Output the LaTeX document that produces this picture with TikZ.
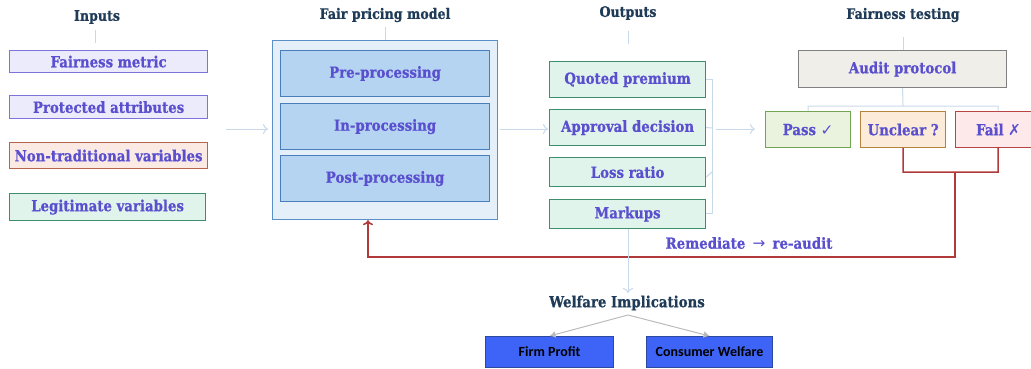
\documentclass[tikz,border=0pt]{standalone}
\usepackage{fontspec}
\setmainfont{DejaVu Serif}[FakeStretch=0.87,BoldFeatures={FakeBold=0.7}]
\newfontfamily\symf{DejaVu Sans}
\newfontfamily\calf{Carlito}
\usetikzlibrary{arrows.meta}
\definecolor{ttl}{HTML}{1F3B57}
\definecolor{txt}{HTML}{5A4FCF}
\definecolor{lavF}{HTML}{ECEBFB}\definecolor{lavD}{HTML}{7D74DB}
\definecolor{salF}{HTML}{FBEAE4}\definecolor{salD}{HTML}{B5654D}
\definecolor{grnF}{HTML}{E1F4EC}\definecolor{grnD}{HTML}{3E8E6E}
\definecolor{outF}{HTML}{E5EFF9}\definecolor{outD}{HTML}{5B8FC8}
\definecolor{inF}{HTML}{B4D4F1}\definecolor{inD}{HTML}{4A7EBB}
\definecolor{audF}{HTML}{EFEEE8}\definecolor{audD}{HTML}{808080}
\definecolor{pasF}{HTML}{E9F3DE}\definecolor{pasD}{HTML}{72A451}
\definecolor{uncF}{HTML}{FBEBD8}\definecolor{uncD}{HTML}{B4843F}
\definecolor{faiF}{HTML}{FDE9E9}\definecolor{faiD}{HTML}{B84444}
\definecolor{redl}{HTML}{B03A3A}
\definecolor{lite}{HTML}{C8D9EA}
\definecolor{gryl}{HTML}{BBBBBB}
\definecolor{bluF}{HTML}{3D64F6}\definecolor{bluD}{HTML}{2B4A9E}
\tikzset{
  x=1pt,y=-1pt,
  title/.style={text=ttl,font=\fontsize{14.5}{16}\selectfont\bfseries,inner sep=0},
  box/.style={draw,line width=1.2pt,text=txt,font=\fontsize{15.3}{17}\selectfont\bfseries,inner sep=0,anchor=north west},
  lite line/.style={draw=lite,line width=1pt},
  lite arrow/.style={draw=lite,line width=1pt,-{To[length=5pt,width=10pt]}},
  gray arrow/.style={draw=gryl,line width=1pt,-{Latex[length=6pt,width=7pt]}},
  red line/.style={draw=redl,line width=1.5pt},
}
\begin{document}
\begin{tikzpicture}
\useasboundingbox (0,0) rectangle (1031,369);
\clip (0,0) rectangle (1031,369);
% titles
\node[title] (tin) at (97,17) {Inputs};
\node[title] (tfp) at (385,15) {Fair pricing model};
\node[title] (tout) at (628,13) {Outputs};
\node[title] (tft) at (903,15) {Fairness testing};
\draw[lite line] (95,30) -- (95,43);
\draw[lite line] (385,27) -- (385,40);
\draw[lite line] (628,31) -- (628,44);
\draw[lite line] (903,37) -- (903,50);
% inputs
\node[box,draw=lavD,fill=lavF,minimum width=198pt,minimum height=22pt] (fm) at (9,50) {Fairness metric};
\node[box,draw=lavD,fill=lavF,minimum width=198pt,minimum height=23pt] (pa) at (9,95) {Protected attributes};
\node[box,draw=salD,fill=salF,minimum width=198pt,minimum height=26pt] (nt) at (9,142) {Non-traditional variables};
\node[box,draw=grnD,fill=grnF,minimum width=196pt,minimum height=27pt] (lv) at (9,193) {Legitimate variables};
% fair pricing model
\node[box,draw=outD,fill=outF,minimum width=225pt,minimum height=179pt] (fpm) at (272,40) {};
\node[box,draw=inD,fill=inF,minimum width=209pt,minimum height=46pt] (pre) at (280,50) {Pre-processing};
\node[box,draw=inD,fill=inF,minimum width=209pt,minimum height=46pt] (inp) at (280,103) {In-processing};
\node[box,draw=inD,fill=inF,minimum width=209pt,minimum height=46pt] (post) at (280,155) {Post-processing};
\coordinate (a1s) at (226,129); \coordinate (a1e) at (268,129);
\draw[lite arrow] (a1s) -- (a1e);
\coordinate (a2s) at (500,129); \coordinate (a2e) at (548,129);
\draw[lite arrow] (a2s) -- (a2e);
% outputs
\node[box,draw=grnD,fill=grnF,minimum width=156pt,minimum height=36pt] (qp) at (549,61) {Quoted premium};
\node[box,draw=grnD,fill=grnF,minimum width=156pt,minimum height=36pt] (ad) at (549,109) {Approval decision};
\node[box,draw=grnD,fill=grnF,minimum width=156pt,minimum height=29pt] (lr) at (549,157) {Loss ratio};
\node[box,draw=grnD,fill=grnF,minimum width=156pt,minimum height=29pt] (mk) at (549,199) {Markups};
\draw[lite line] (qp.east |- 0,80) -- (712,80) -- (712,213) -- (mk.east |- 0,213);
\draw[lite line] (ad.east) -- (712,128);
\draw[lite line] (lr.east |- 0,177) -- (712,172);
\coordinate (a3s) at (716,129); \coordinate (a3e) at (755,129);
\draw[lite arrow] (a3s) -- (a3e);
% fairness testing
\node[box,draw=audD,fill=audF,minimum width=208pt,minimum height=37pt] (aud) at (798,50) {Audit protocol};
\node[box,draw=pasD,fill=pasF,minimum width=85pt,minimum height=36pt] (pas) at (765,111) {Pass {\symf\mdseries ✓}};
\node[box,draw=uncD,fill=uncF,minimum width=85pt,minimum height=36pt] (unc) at (860,111) {Unclear ?};
\node[box,draw=faiD,fill=faiF,minimum width=86pt,minimum height=36pt] (fai) at (955,111) {Fail {\symf\mdseries ✗}};
\draw[lite line] (aud.south) -- (903,106);
\draw[lite line] (pas.north |- 0,111) -- (808,106) -- (998,106) -- (998,111);
\draw[red line] (unc.south) -- (903,172) -- (998,172) -- (998,147);
\coordinate (rc) at (955,172);
\draw[red line,-{To[length=5pt,width=10pt]}] (rc) -- (955,257) -- (368,257) -- (fpm.south -| 368,0);
\node[text=txt,font=\fontsize{15.3}{17}\selectfont\bfseries,inner sep=0] (rem) at (749,243) {Remediate\, {\symf\mdseries →}\, re-audit};
% welfare
\node[title,font=\fontsize{15.3}{17}\selectfont\bfseries] (wi) at (627,303) {Welfare Implications};
\draw[lite arrow] (mk.south -| 628,0) -- (628,293);
\coordinate (wb) at (628,315);
\node[box,draw=bluD,fill=bluF,text=black,font=\calf\fontsize{14}{16}\selectfont\bfseries,minimum width=128pt,minimum height=31pt] (fp) at (485,336) {Firm Profit};
\node[box,draw=bluD,fill=bluF,text=black,font=\calf\fontsize{14}{16}\selectfont\bfseries,minimum width=126pt,minimum height=31pt] (cw) at (646,336) {Consumer Welfare};
\draw[gray arrow] (wb) -- (fp.north);
\draw[gray arrow] (wb) -- (cw.north);
\end{tikzpicture}
\end{document}
